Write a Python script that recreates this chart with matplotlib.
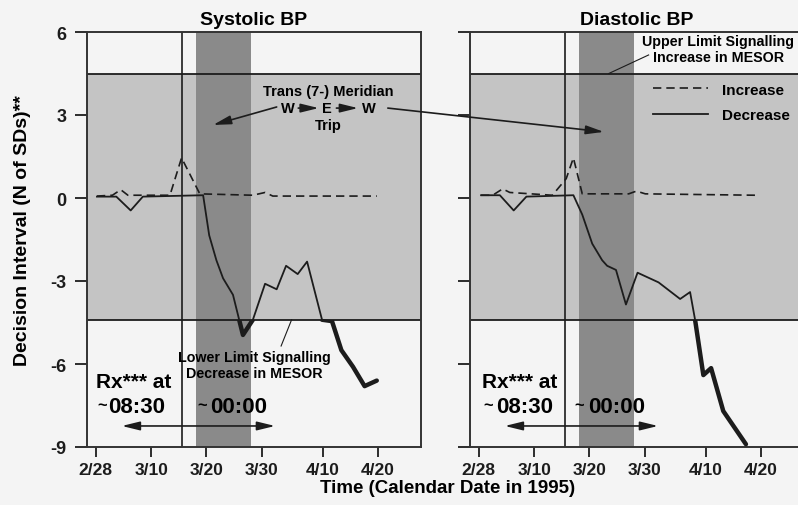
#!/usr/bin/env python3
"""Decision interval charts for systolic and diastolic BP (1995)."""

import matplotlib
matplotlib.use("Agg")
import matplotlib.pyplot as plt
from matplotlib.patches import Rectangle

# days counted from 2/28/1995
tick_days = [0, 10, 20, 30, 41, 51]
tick_labels = ["2/28", "3/10", "3/20", "3/30", "4/10", "4/20"]
y_ticks = [6, 3, 0, -3, -6, -9]

upper_limit = 4.5
lower_limit = -4.4
rx_start_day = 15.5
trip_start, trip_end = 18.1, 28.1

sys_inc_days = [0.2, 3.0, 4.5, 5.8, 13.4, 15.5, 18.8, 28.4, 30.6, 32.0, 50.8]
sys_inc = [0.07, 0.1, 0.3, 0.1, 0.1, 1.45, 0.15, 0.1, 0.2, 0.07, 0.07]

sys_dec_days = [0.2, 3.7, 6.3, 8.5, 19.4, 20.5, 21.8, 23.0, 24.8, 26.6, 28.4,
                30.6, 32.7, 34.4, 36.5, 38.2, 40.9, 42.7, 44.4, 46.5, 48.6, 50.8]
sys_dec = [0.05, 0.05, -0.45, 0.05, 0.1, -1.35, -2.25, -2.9, -3.5, -4.95, -4.4,
           -3.1, -3.3, -2.45, -2.75, -2.3, -4.4, -4.45, -5.5, -6.1, -6.8, -6.6]

dia_inc_days = [0.4, 2.5, 4.3, 5.6, 13.3, 15.8, 17.1, 18.7, 27.1, 28.5, 30.1, 50.1]
dia_inc = [0.1, 0.1, 0.33, 0.2, 0.1, 0.7, 1.45, 0.15, 0.15, 0.25, 0.15, 0.1]

dia_dec_days = [0.4, 3.8, 6.3, 8.6, 17.1, 18.7, 20.5, 22.3, 23.2, 24.8, 26.6,
                28.7, 32.5, 36.4, 38.2, 39.1, 40.6, 42.0, 44.2, 48.3]
dia_dec = [0.1, 0.1, -0.45, 0.05, 0.1, -0.6, -1.65, -2.25, -2.45, -2.6, -3.85,
           -2.7, -3.05, -3.65, -3.4, -4.4, -6.4, -6.15, -7.7, -8.9]

FONT = ["Liberation Sans", "DejaVu Sans"]
plt.rcParams["font.family"] = FONT
plt.rcParams["font.weight"] = "bold"
plt.rcParams["axes.unicode_minus"] = False

PAPER = "#f4f4f4"
LIGHT = "#c4c4c4"
DARK = "#8a8a8a"
INK = "#1c1c1c"
XLIM = (-1.6, 58.8)
YLIM = (-9, 6)

ARROW = dict(arrowstyle="-|>,head_length=0.9,head_width=0.22", color=INK,
             lw=1.2, mutation_scale=12, shrinkA=0, shrinkB=0)
DARROW = dict(arrowstyle="<|-|>,head_length=0.9,head_width=0.22", color=INK,
              lw=1.2, mutation_scale=12, shrinkA=0, shrinkB=0)


def draw_panel(ax, title, inc_days, inc, dec_days, dec, show_ylabels):
    ax.set_facecolor(PAPER)
    ax.set_xlim(*XLIM)
    ax.set_ylim(*YLIM)
    ax.axhspan(lower_limit, upper_limit, color=LIGHT, lw=0, zorder=0)
    ax.axvspan(trip_start, trip_end, color=DARK, lw=0, zorder=1)
    ax.axhline(upper_limit, color=INK, lw=1.3, zorder=2)
    ax.axhline(lower_limit, color=INK, lw=1.3, zorder=2)
    ax.axvline(rx_start_day, color=INK, lw=1.2, zorder=2)

    ax.plot(inc_days, inc, ls=(0, (5, 3)), color=INK, lw=1.2, zorder=3,
            label="Increase")
    ax.plot(dec_days, dec, color=INK, lw=1.3, zorder=3, label="Decrease")
    # thick stroke where the curve falls below the lower limit
    thick, = ax.plot(dec_days, dec, color=INK, lw=3.2, zorder=3,
                     solid_capstyle="round", solid_joinstyle="round")
    clip = Rectangle((XLIM[0], YLIM[0]), XLIM[1] - XLIM[0],
                     lower_limit - YLIM[0], transform=ax.transData)
    thick.set_clip_path(clip)

    ax.set_xticks(tick_days)
    ax.set_xticklabels(tick_labels)
    ax.set_yticks(y_ticks)
    if not show_ylabels:
        ax.set_yticklabels([])
    ax.tick_params(axis="x", direction="out", length=7, width=1.3,
                   labelsize=12.5, pad=4, colors=INK)
    ax.tick_params(axis="y", direction="out", length=9, width=1.3,
                   labelsize=13, pad=6, colors=INK)
    for spine in ax.spines.values():
        spine.set_linewidth(1.4)
        spine.set_color("#333333")
    ax.set_title(title, fontsize=14, fontweight="bold", pad=6)

    # Rx timing arrow
    ax.annotate("", xy=(4.7, -8.24), xytext=(32.4, -8.24), arrowprops=DARROW)


fig = plt.figure(figsize=(7.98, 5.06), dpi=100, facecolor=PAPER)
W, H = 798, 506
ax1 = fig.add_axes([87 / W, 58 / H, 334 / W, 415 / H])
ax2 = fig.add_axes([470 / W, 58 / H, 334 / W, 415 / H])

draw_panel(ax1, "Systolic BP", sys_inc_days, sys_inc, sys_dec_days, sys_dec, True)
draw_panel(ax2, "Diastolic BP", dia_inc_days, dia_inc, dia_dec_days, dia_dec, False)

# Rx text, left panel
ax1.text(0, -6.65, "Rx*** at", fontsize=15, fontweight="bold", va="center", ha="left")
ax1.text(0.2, -7.45, "~", fontsize=12, fontweight="bold", va="center", ha="left")
ax1.text(2.3, -7.52, "08:30", fontsize=16, fontweight="bold", va="center", ha="left")
ax1.text(18.3, -7.45, "~", fontsize=12, fontweight="bold", va="center", ha="left")
ax1.text(20.6, -7.52, "00:00", fontsize=16, fontweight="bold", va="center", ha="left")

# Rx text, right panel
ax2.text(0.5, -6.65, "Rx*** at", fontsize=15, fontweight="bold", va="center", ha="left")
ax2.text(0.9, -7.45, "~", fontsize=12, fontweight="bold", va="center", ha="left")
ax2.text(3.2, -7.52, "08:30", fontsize=16, fontweight="bold", va="center", ha="left")
ax2.text(17.2, -7.45, "~", fontsize=12, fontweight="bold", va="center", ha="left")
ax2.text(19.7, -7.52, "00:00", fontsize=16, fontweight="bold", va="center", ha="left")

# trip annotation
ax1.text(42.0, 3.87, "Trans (7-) Meridian", fontsize=10.5, fontweight="bold",
         ha="center", va="center")
ax1.text(42.1, 2.64, "Trip", fontsize=10.5, fontweight="bold", ha="center", va="center")
for d, s in zip([34.7, 41.8, 49.4], ["W", "E", "W"]):
    ax1.text(d, 3.25, s, fontsize=10.5, fontweight="bold", ha="center", va="center")
ax1.annotate("", xy=(40.3, 3.25), xytext=(36.6, 3.25), arrowprops=ARROW)
ax1.annotate("", xy=(47.4, 3.25), xytext=(43.5, 3.25), arrowprops=ARROW)
ax1.annotate("", xy=(21.2, 2.64), xytext=(32.7, 3.29), arrowprops=ARROW)
ax2.annotate("", xy=(22.6, 2.39), xytext=(52.8, 3.25), textcoords=ax1.transData,
             arrowprops=ARROW, annotation_clip=False)

# limit labels
ax1.text(28.6, -6.04, "Lower Limit Signalling\nDecrease in MESOR", fontsize=10.3,
         fontweight="bold", ha="center", va="center", linespacing=1.15)
ax1.plot([35.4, 33.5], [lower_limit, -5.35], color=INK, lw=0.8)
ax2.text(43.3, 5.39, "Upper Limit Signalling\nIncrease in MESOR", fontsize=10.3,
         fontweight="bold", ha="center", va="center", linespacing=1.15, clip_on=False)
ax2.plot([23.5, 30.7], [upper_limit, 5.17], color=INK, lw=0.8)

ax2.legend(loc="upper left", bbox_to_anchor=(0.548, 0.878), frameon=False,
           prop={"weight": "bold", "size": 11}, handlelength=3.6,
           handletextpad=0.9, labelspacing=0.75, borderpad=0, borderaxespad=0)

fig.text(23 / W, 1 - 231 / H, "Decision Interval (N of SDs)**", rotation=90,
         fontsize=14, fontweight="bold", ha="center", va="center")
fig.text(448 / W, 1 - 489 / H, "Time (Calendar Date in 1995)", fontsize=13.5,
         fontweight="bold", ha="center", va="center")

fig.savefig("out.png", dpi=100, facecolor=PAPER)
